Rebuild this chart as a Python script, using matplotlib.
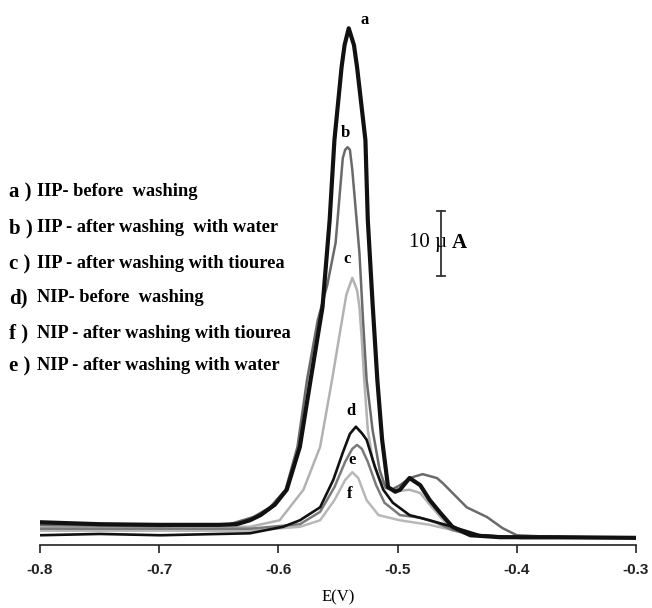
import matplotlib
matplotlib.use("Agg")
import matplotlib.pyplot as plt

# ---------------- data (E in V, I in uA, baseline-relative) ----------------
E_a = [-0.800, -0.750, -0.700, -0.650, -0.635, -0.624, -0.615, -0.603, -0.593, -0.582,
       -0.573, -0.563, -0.557, -0.553, -0.547, -0.5445, -0.541, -0.5366, -0.534, -0.527,
       -0.525, -0.521, -0.517, -0.513, -0.508, -0.502, -0.498, -0.490, -0.481, -0.473,
       -0.464, -0.454, -0.439, -0.414, -0.364, -0.300]
I_a = [3.5, 3.2, 3.1, 3.1, 3.2, 3.8, 4.6, 6.2, 8.5, 15.1,
       25.4, 36.6, 50.0, 62.3, 73.5, 76.9, 79.5, 76.9, 73.5, 62.3,
       50.0, 37.2, 25.4, 16.2, 8.9, 8.2, 8.5, 10.3, 9.2, 6.9,
       4.9, 2.8, 1.5, 1.2, 1.2, 1.1]

E_b = [-0.800, -0.699, -0.641, -0.621, -0.607, -0.594, -0.584, -0.576, -0.567, -0.559,
       -0.552, -0.549, -0.546, -0.544, -0.542, -0.540, -0.538, -0.532, -0.529, -0.526,
       -0.521, -0.515, -0.510, -0.505, -0.498, -0.490, -0.479, -0.467, -0.462, -0.442,
       -0.425, -0.412, -0.400, -0.364, -0.300]
I_b = [3.1, 2.9, 3.2, 4.3, 5.8, 8.5, 15.1, 25.4, 34.6, 40.0,
       46.5, 53.0, 59.5, 60.8, 61.2, 60.8, 57.7, 44.9, 34.6, 25.4,
       17.7, 11.5, 8.8, 8.5, 9.2, 10.3, 10.9, 10.3, 9.5, 5.8,
       4.3, 2.6, 1.5, 1.2, 1.1]

E_c = [-0.800, -0.624, -0.599, -0.579, -0.565, -0.555, -0.548, -0.543, -0.538, -0.534,
       -0.532, -0.530, -0.528, -0.525, -0.521, -0.515, -0.508, -0.500, -0.490, -0.481,
       -0.473, -0.464, -0.454, -0.439, -0.397, -0.300]
I_c = [2.8, 2.8, 3.8, 8.5, 15.1, 25.4, 33.1, 38.5, 41.1, 39.2,
       36.6, 31.5, 25.4, 17.7, 13.1, 10.0, 8.8, 8.3, 8.5, 8.0,
       6.2, 4.3, 2.3, 1.5, 1.2, 1.1]

E_d = [-0.800, -0.750, -0.699, -0.624, -0.596, -0.582, -0.565, -0.554, -0.546, -0.540,
       -0.535, -0.530, -0.526, -0.519, -0.512, -0.504, -0.490, -0.473, -0.454, -0.431,
       -0.397, -0.300]
I_d = [1.5, 1.7, 1.5, 1.8, 2.8, 3.8, 5.8, 10.0, 14.2, 17.1,
       18.2, 17.2, 16.2, 12.0, 8.5, 6.5, 4.6, 3.8, 2.8, 1.5,
       1.1, 1.1]

E_e = [-0.800, -0.624, -0.582, -0.565, -0.553, -0.544, -0.538, -0.534, -0.530, -0.525,
       -0.518, -0.511, -0.498, -0.481, -0.467, -0.454, -0.431, -0.397, -0.300]
I_e = [2.5, 2.5, 3.2, 5.1, 8.9, 12.8, 14.8, 15.4, 14.8, 12.8,
       9.2, 6.5, 4.6, 4.2, 3.4, 2.3, 1.4, 1.1, 1.1]

E_f = [-0.800, -0.624, -0.582, -0.565, -0.553, -0.544, -0.538, -0.533, -0.526, -0.516,
       -0.498, -0.473, -0.454, -0.431, -0.300]
I_f = [2.2, 2.2, 2.8, 3.8, 6.9, 10.0, 11.2, 10.3, 6.9, 4.6,
       3.8, 3.1, 2.3, 1.4, 1.1]

x_ticks = [-0.8, -0.7, -0.6, -0.5, -0.4, -0.3]
x_tick_labels = ["-0.8", "-0.7", "-0.6", "-0.5", "-0.4", "-0.3"]

legend_prefix = ["a )", "b )", "c )", "d)", "f )", "e )"]
legend_text = ["IIP- before  washing",
               "IIP - after washing  with water",
               "IIP - after washing with tiourea",
               "NIP- before  washing",
               "NIP - after washing with tiourea",
               "NIP - after washing with water"]

curve_labels = ["a", "b", "c", "d", "e", "f"]
curve_label_pos = [(-0.5280, 80.8), (-0.5435, 63.4), (-0.5425, 44.0),
                   (-0.5395, 20.6), (-0.5385, 13.1), (-0.5405, 7.8)]

scale_bar_E = -0.4636
scale_bar_I = (41.4, 51.4)
scale_text = "10 \u00b5"

# ---------------- figure ----------------
W, H = 652, 608
fig = plt.figure(figsize=(W / 100, H / 100), dpi=100)
ax = fig.add_axes([40 / W, 63 / H, 596 / W, 545 / H])
ax.set_xlim(-0.8, -0.3)
ax.set_ylim(0, 545 / 6.5)

ax.plot(E_a, I_a, color="#111111", lw=3.0, solid_joinstyle="round", zorder=5)
ax.plot(E_b, I_b, color="#6a6a6a", lw=1.8, zorder=4)
ax.plot(E_c, I_c, color="#b2b2b2", lw=1.8, zorder=3)
ax.plot(E_d, I_d, color="#111111", lw=1.9, zorder=4)
ax.plot(E_e, I_e, color="#7a7a7a", lw=1.8, zorder=3)
ax.plot(E_f, I_f, color="#b8b8b8", lw=1.8, zorder=2)

for s in ["left", "right", "top"]:
    ax.spines[s].set_visible(False)
ax.spines["bottom"].set_linewidth(1.2)
ax.spines["bottom"].set_color("#222222")
ax.set_yticks([])
ax.set_xticks(x_ticks)
ax.set_xticklabels(x_tick_labels, fontfamily="Liberation Sans", fontweight="bold", fontsize=11)
ax.tick_params(axis="x", direction="out", length=6, width=1.2, pad=7, colors="#222222")
ax.set_xlabel("E(V)", fontfamily="Liberation Serif", fontsize=12, labelpad=9)

serif = "Liberation Serif"
for lab, (ex, iy) in zip(curve_labels, curve_label_pos):
    ax.text(ex, iy, lab, fontfamily=serif, fontweight="bold", fontsize=12,
            ha="center", va="center", zorder=6)

# scale bar
ax.plot([scale_bar_E, scale_bar_E], scale_bar_I, color="#333333", lw=1.3)
for yv in scale_bar_I:
    ax.plot([scale_bar_E - 0.0035, scale_bar_E + 0.0035], [yv, yv], color="#333333", lw=1.3)
fig.text(409 / W, 1 - 243 / H, scale_text, fontfamily=serif, fontsize=15,
         ha="left", va="center")
fig.text(452 / W, 1 - 243 / H, "A", fontfamily=serif, fontsize=15, fontweight="bold",
         ha="left", va="center")

# legend-like text block
ys = [192, 228, 264, 298, 333, 366]
for pre, txt, y in zip(legend_prefix, legend_text, ys):
    fig.text(9 / W, 1 - y / H, pre, fontfamily=serif, fontweight="bold", fontsize=15,
             ha="left", va="center")
    fig.text(37 / W, 1 - y / H, txt, fontfamily=serif, fontweight="bold", fontsize=13.3,
             ha="left", va="center")

fig.savefig("out.png", dpi=100, facecolor="white")
